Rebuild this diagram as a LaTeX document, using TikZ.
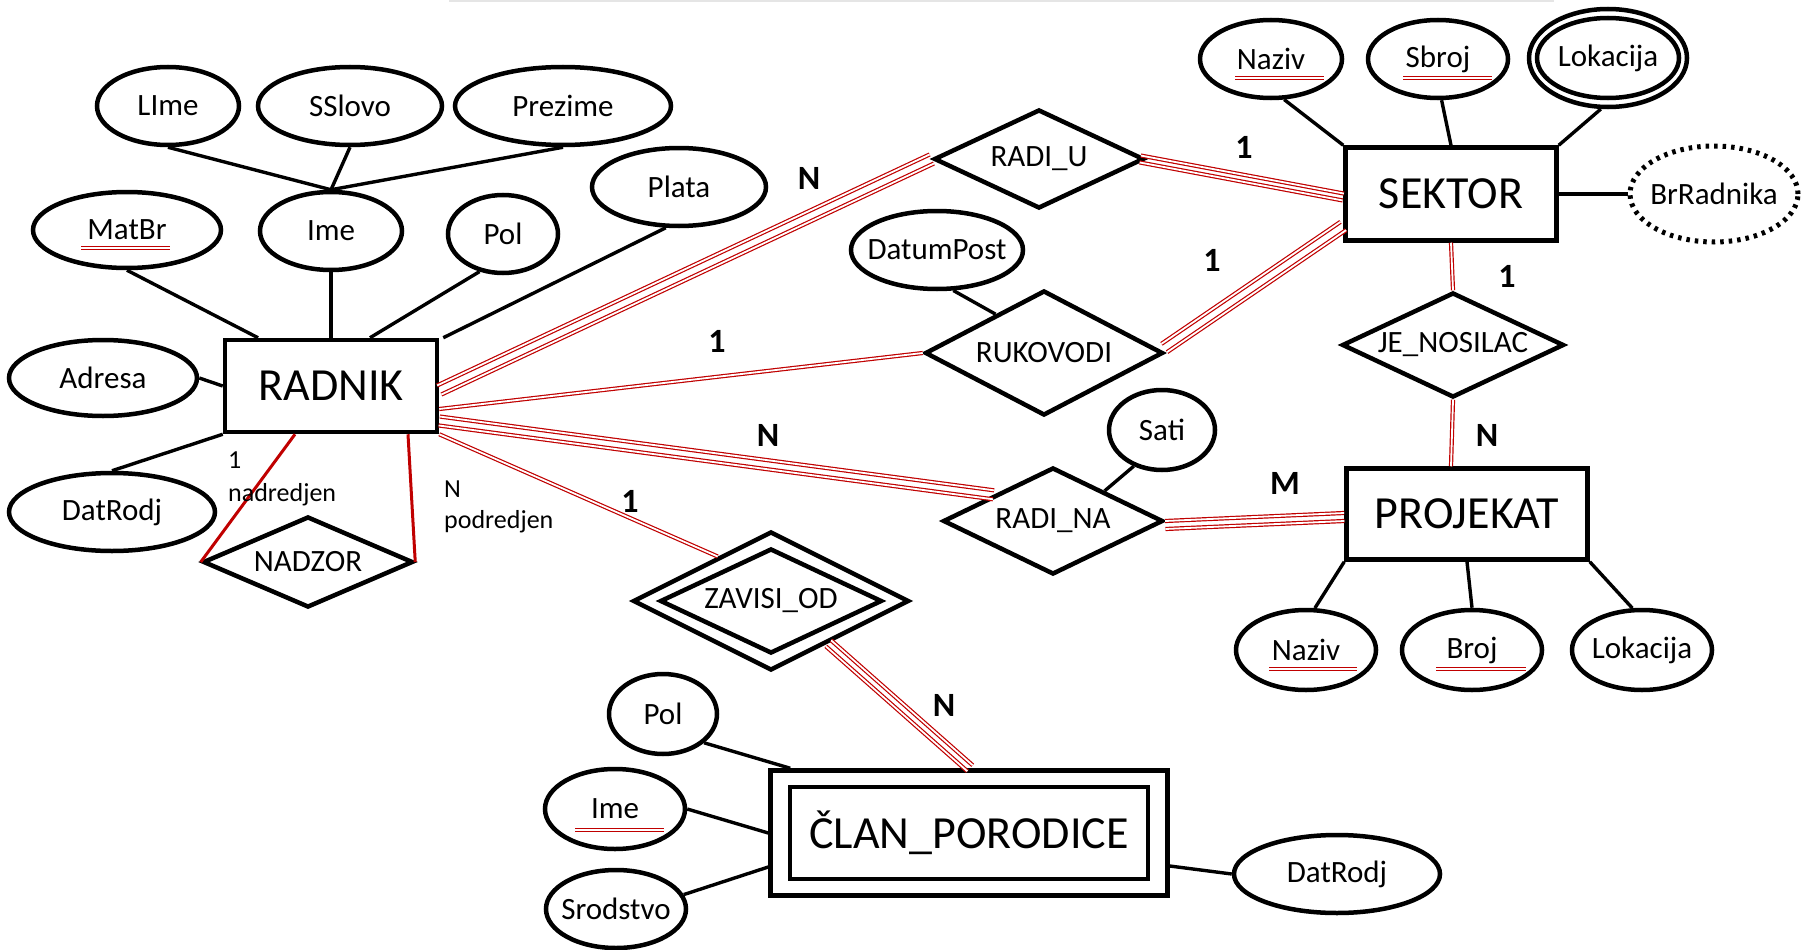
\documentclass[tikz,border=0pt]{standalone}
\usepackage{fontspec}
\setmainfont{Carlito}
\usetikzlibrary{shapes.geometric,calc}
\definecolor{dred}{RGB}{192,0,0}
\newcommand\pairline[3]{%
  \draw[dbl] ($(#1)!#3!90:(#2)$) -- ($(#2)!#3!-90:(#1)$);
  \draw[dbl] ($(#1)!#3!-90:(#2)$) -- ($(#2)!#3!90:(#1)$);}
\newcommand\keyline[4]{% node, left, right, down
  \draw[dul] ($(#1.center)+(#2pt,-#4pt)$) -- ($(#1.center)+(#3pt,-#4pt)$);}
\begin{document}
\begin{tikzpicture}[x=1pt,y=-1pt,
  attr/.style={ellipse, draw, line width=4.5pt, fill=white, inner xsep=-20pt, inner ysep=0pt, font=\fontsize{31}{37}\selectfont},
  ent/.style={rectangle, draw, line width=4.5pt, fill=white, inner sep=0pt, font=\fontsize{46}{55}\selectfont},
  rel/.style={diamond, draw, line width=4.5pt, fill=white, shape aspect=2, inner xsep=-12pt, inner ysep=-4pt, font=\fontsize{31}{37}\selectfont},
  lnk/.style={line width=3.4pt},
  dbl/.style={draw=dred, line width=1.2pt, double=white, double distance=1.8pt},
  dul/.style={draw=dred, line width=1.1pt, double=white, double distance=1.3pt},
  selfrel/.style={draw=dred, line width=3pt},
  card/.style={font=\fontsize{34}{40}\selectfont\bfseries},
  role/.style={font=\fontsize{26}{32}\selectfont, anchor=base west, inner sep=0pt},
]
\useasboundingbox (0,0) rectangle (1805,950);
\draw[black!10, line width=2pt] (449,1) -- (1554,1);

% RADNIK and attributes
\node[attr, minimum width=142pt, minimum height=78pt] (lime) at (168,106) {LIme};
\node[attr, minimum width=184pt, minimum height=78pt] (sslovo) at (350,106) {SSlovo};
\node[attr, minimum width=216pt, minimum height=78pt] (prezime) at (563,106) {Prezime};
\node[attr, minimum width=174pt, minimum height=78pt] (plata) at (679,187) {Plata};
\node[attr, minimum width=188pt, minimum height=76pt] (matbr) at (127,230) {MatBr};
\node[attr, minimum width=142pt, minimum height=78pt] (ime) at (331,231) {Ime};
\node[attr, minimum width=110pt, minimum height=78pt] (pol) at (503,234) {Pol};
\node[attr, minimum width=188pt, minimum height=76pt] (adresa) at (103,378) {Adresa};
\node[attr, minimum width=206pt, minimum height=78pt] (datrodj) at (112,512) {DatRodj};
\node[ent, minimum width=212pt, minimum height=92pt] (radnik) at (331,386) {RADNIK};

% SEKTOR and attributes
\node[attr, minimum width=142pt, minimum height=78pt] (naziv1) at (1271,59) {Naziv};
\node[attr, minimum width=140pt, minimum height=78pt] (sbroj) at (1438,59) {Sbroj};
\node[attr, minimum width=158pt, minimum height=98pt] (lok1) at (1608,58) {};
\node[attr, minimum width=142pt, minimum height=80pt] (lok1in) at (1608,58) {Lokacija};
\node[ent, minimum width=211pt, minimum height=93pt] (sektor) at (1451,194) {SEKTOR};
\node[attr, dash pattern=on 3.5pt off 5pt, line width=5pt, minimum width=168pt, minimum height=96pt] (brr) at (1714,194) {BrRadnika};

% PROJEKAT and attributes
\node[ent, minimum width=241pt, minimum height=91pt] (projekat) at (1467,514) {PROJEKAT};
\node[attr, minimum width=140pt, minimum height=80pt] (naziv2) at (1306,650) {Naziv};
\node[attr, minimum width=140pt, minimum height=80pt] (broj) at (1472,650) {Broj};
\node[attr, minimum width=140pt, minimum height=80pt] (lok2) at (1642,650) {Lokacija};

% CLAN_PORODICE and attributes
\node[ent, minimum width=397pt, minimum height=125pt] (clan) at (969,833) {};
\node[ent, minimum width=358pt, minimum height=92pt] (clanin) at (969,833) {ČLAN\_PORODICE};
\node[attr, minimum width=108pt, minimum height=80pt] (pol2) at (663,714) {Pol};
\node[attr, minimum width=140pt, minimum height=80pt] (ime2) at (615,809) {Ime};
\node[attr, minimum width=140pt, minimum height=78pt] (srodstvo) at (616,909) {Srodstvo};
\node[attr, minimum width=206pt, minimum height=78pt] (datrodj2) at (1337,874) {DatRodj};

% relationship attributes
\node[attr, minimum width=172pt, minimum height=78pt] (datumpost) at (937,250) {DatumPost};
\node[attr, minimum width=106pt, minimum height=80pt] (sati) at (1162,430) {Sati};

% relationships
\node[rel, minimum width=210pt, minimum height=99pt] (radiu) at (1039,159) {RADI\_U};
\node[rel, minimum width=238pt, minimum height=125pt] (ruk) at (1044,353) {RUKOVODI};
\node[rel, minimum width=222pt, minimum height=105pt] (jenos) at (1453,345) {JE\_NOSILAC};
\node[rel, minimum width=220pt, minimum height=107pt] (radina) at (1053,521) {RADI\_NA};
\node[rel, minimum width=210pt, minimum height=91pt] (nadzor) at (308,562) {NADZOR};
\node[rel, minimum width=276pt, minimum height=139pt] (zav) at (771,601) {};
\node[rel, minimum width=222pt, minimum height=105pt] (zavin) at (771,601) {ZAVISI\_OD};

% key underlines
\keyline{matbr}{-46}{43}{18}
\keyline{naziv1}{-36}{53}{19}
\keyline{sbroj}{-35}{54}{19}
\keyline{naziv2}{-37}{51}{19}
\keyline{broj}{-36}{54}{19}
\keyline{ime2}{-40}{49}{21}

% attribute links
\draw[lnk] (lime.south) -- (ime.north);
\draw[lnk] (sslovo.south) -- (ime.north);
\draw[lnk] (prezime.south) -- (ime.north);
\draw[lnk] (matbr.south) -- ([xshift=-73pt]radnik.north);
\draw[lnk] (ime.south) -- (radnik.north);
\draw[lnk] (pol.-122) -- ([xshift=39pt]radnik.north);
\draw[lnk] (plata.-108) -- ([xshift=4pt]radnik.north east);
\draw[lnk] (adresa.east) -- (radnik.west);
\draw[lnk] (radnik.south west) -- (datrodj.north);
\draw[lnk] (naziv1.-72) -- (sektor.north west);
\draw[lnk] (sbroj.-85) -- (sektor.north);
\draw[lnk] (lok1.-98) -- (sektor.north east);
\draw[lnk] (sektor.east) -- (brr.west);
\draw[lnk] (datumpost.-68) -- ($(ruk.west)!0.6!(ruk.north)$);
\draw[lnk] (sati.-128) -- ($(radina.north)!0.46!(radina.east)$);
\draw[lnk] (projekat.south west) -- (naziv2.78);
\draw[lnk] (projekat.south) -- (broj.north);
\draw[lnk] (projekat.south east) -- (lok2.103);
\draw[lnk] (pol2.-35) -- ([xshift=22pt]clan.north west);
\draw[lnk] (ime2.east) -- (clan.west);
\draw[lnk] (srodstvo.12) -- ([yshift=-34pt]clan.west);
\draw[lnk] (datrodj2.west) -- ([yshift=-33pt]clan.east);

% recursive NADZOR
\draw[selfrel] ([xshift=-36pt]radnik.south) -- (nadzor.west);
\draw[selfrel] ([xshift=77pt]radnik.south) -- (nadzor.east);

% participation connectors
\coordinate (rA) at ([yshift=-4pt]radnik.east);
\pairline{rA}{radiu.west}{5pt}
\coordinate (uS1) at ([xshift=-6pt]radiu.east);
\coordinate (uS2) at ([yshift=-3pt]sektor.west);
\pairline{uS1}{uS2}{3.5pt}
\coordinate (kS1) at ([shift={(-1pt,5pt)}]ruk.east);
\coordinate (kS2) at ([yshift=-32pt]sektor.west);
\pairline{kS1}{kS2}{5pt}
\coordinate (rN1) at ([yshift=-35pt]radnik.east);
\coordinate (rN2) at ($(radina.west)!0.47!(radina.north)$);
\pairline{rN1}{rN2}{4.5pt}
\coordinate (nP1) at ([yshift=-4pt]radina.east);
\coordinate (nP2) at ([yshift=-3pt]projekat.west);
\pairline{nP1}{nP2}{4pt}
\coordinate (zC1) at ($(zav.south)!0.41!(zav.east)$);
\coordinate (zC2) at ([xshift=1pt]clan.north);
\pairline{zC1}{zC2}{4pt}
\draw[dbl] ([yshift=-23pt]radnik.east) -- (ruk.west);
\draw[dbl] (radnik.south east) -- ($(zav.west)!0.62!(zav.north)$);
\draw[dbl] (sektor.south) -- (jenos.north);
\draw[dbl] (jenos.south) -- ([xshift=-16pt]projekat.north);

% cardinalities
\node[card] (c1) at (809,178) {N};
\node[card] (c2) at (1244,147) {1};
\node[card] (c3) at (1212,260) {1};
\node[card] (c4) at (717,341) {1};
\node[card] (c5) at (1507,276) {1};
\node[card] (c6) at (1487,435) {N};
\node[card] (c7) at (768,435) {N};
\node[card] (c8) at (1285,483) {M};
\node[card] (c9) at (630,501) {1};
\node[card] (c10) at (944,705) {N};

% roles
\node[role] (r1) at (228,468) {1};
\node[role] (r2) at (228,501) {nadredjen};
\node[role] (r3) at (444,497) {N};
\node[role] (r4) at (444,528) {podredjen};
\end{tikzpicture}
\end{document}
